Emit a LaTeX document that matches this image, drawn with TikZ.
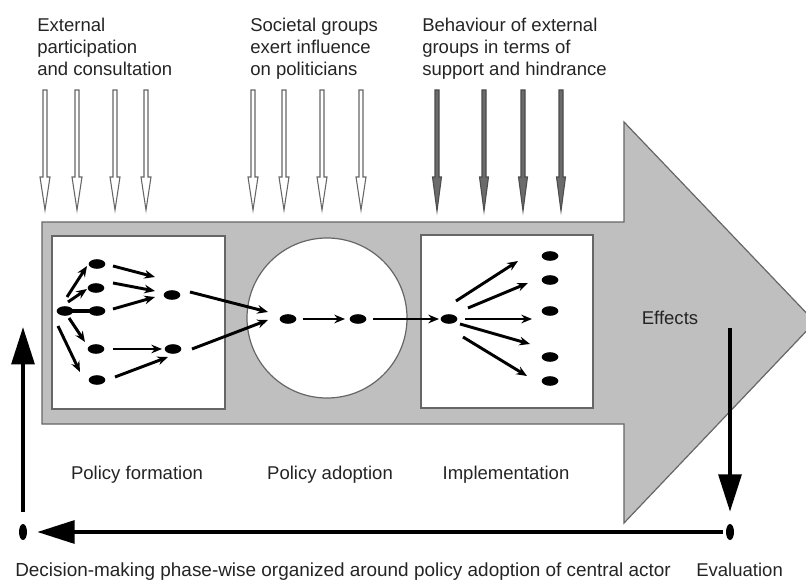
\documentclass[tikz,border=0pt]{standalone}
\usepackage{fontspec}
\setmainfont{Liberation Sans}
\usetikzlibrary{arrows.meta,shapes.geometric,calc}
\definecolor{bodygray}{gray}{0.75}
\definecolor{edgegray}{gray}{0.40}
\definecolor{darkfill}{gray}{0.42}
\definecolor{darkedge}{gray}{0.30}
\definecolor{txtgray}{gray}{0.14}
\begin{document}
\begin{tikzpicture}[x=0.75pt,y=-0.75pt,
  dot/.style={ellipse, fill=black, inner sep=0pt, minimum width=12.5pt, minimum height=7.2pt},
  vdot/.style={ellipse, fill=black, inner sep=0pt, minimum width=6pt, minimum height=12pt},
  arr/.style={line width=2.2pt, -{Stealth[length=8pt,width=6.5pt]}},
  bigarr/.style={line width=3pt, -{Triangle[length=28pt,width=17pt]}},
  lbl/.style={font=\fontsize{13.9}{16.5}\selectfont, text=txtgray, inner sep=0pt},
  panel/.style={draw=edgegray, line width=0.9pt, fill=white},
  hollow/.style={draw=edgegray, line width=0.8pt, fill=white},
  solidin/.style={draw=darkedge, line width=0.8pt, fill=darkfill}]
\useasboundingbox (0,0) rectangle (806,581);
\clip (0,0) rectangle (806,581);

% big process arrow
\draw[fill=bodygray, draw=edgegray, line width=0.9pt]
  (42,222) -- (624,222) -- (624,122) -- (815,322) -- (624,523) -- (624,424) -- (42,424) -- cycle;

% panels
\draw[panel] (52,236) rectangle (225,409);
\draw[panel] (327,318) circle (80);
\draw[panel] (421,235) rectangle (593,408);

% top labels
\node[lbl, anchor=north west, align=left] (t1) at (37,17.5) {External\\participation\\and consultation};
\node[lbl, anchor=north west, align=left] (t2) at (250,17.5) {Societal groups\\exert influence\\on politicians};
\node[lbl, anchor=north west, align=left] (t3) at (422,17.5) {Behaviour of external\\groups in terms of\\support and hindrance};

% influence arrows
\foreach \x in {45,77,115,146,253,284,322,361}{
  \draw[hollow] (\x-2,90) -- (\x+2,90) -- (\x+2,177) -- (\x+5,177) -- (\x,210) -- (\x-5,177) -- (\x-2,177) -- cycle;
}
\foreach \x in {437,484,523,561}{
  \draw[solidin] (\x-2,90) -- (\x+2,90) -- (\x+2,177) -- (\x+4.5,177) -- (\x,211) -- (\x-4.5,177) -- (\x-2,177) -- cycle;
}

% policy formation network
\node[dot] (n0) at (65,311) {};
\node[dot] (a1) at (97,264) {};
\node[dot] (a2) at (96,288) {};
\node[dot] (a3) at (97,311) {};
\node[dot] (a4) at (96,349) {};
\node[dot] (a5) at (97,380) {};
\node[dot] (b1) at (172,295) {};
\node[dot] (b2) at (173,349) {};
\node[dot] (c1) at (288,319) {};
\node[dot] (c2) at (358,319) {};
\node[dot] (d0) at (449,319) {};
\node[dot] (e1) at (550,256) {};
\node[dot] (e2) at (550,280) {};
\node[dot] (e3) at (550,311) {};
\node[dot] (e4) at (550,357) {};
\node[dot] (e5) at (550,381) {};

\draw[arr] ($(n0)+(2,-14)$) -- ($(a1)+(-10,2)$);
\draw[arr] ($(n0)+(3,-9)$) -- ($(a2)+(-9,1)$);
\draw[line width=2.6pt] ($(n0)+(6,0)$) -- ($(a3)+(-7,0)$);
\draw[arr] ($(n0)+(4,7)$) -- ($(a4)+(-11,-7)$);
\draw[arr] ($(n0)+(-7,15)$) -- ($(a5)+(-17,-8)$);
\draw[arr] ($(a1)+(16,2)$) -- ($(b1)+(-17,-18)$);
\draw[arr] ($(a2)+(17,-5)$) -- ($(b1)+(-17,-4)$);
\draw[arr] ($(a3)+(16,-2)$) -- ($(b1)+(-17,2)$);
\draw[arr] ($(a4)+(17,0)$) -- ($(b2)+(-11,0)$);
\draw[arr] ($(a5)+(18,-3)$) -- ($(b2)+(-5,8)$);
\draw[arr] ($(b1)+(18,-3)$) -- ($(c1)+(-20,-7)$);
\draw[arr] ($(b2)+(19,0)$) -- ($(c1)+(-20,1)$);
\draw[arr] ($(c1)+(15,0)$) -- ($(c2)+(-13,0)$);
\draw[arr] ($(c2)+(15,0)$) -- ($(d0)+(-10,0)$);
\draw[arr] ($(d0)+(7,-18)$) -- ($(e1)+(-32,5)$);
\draw[arr] ($(d0)+(19,-11)$) -- ($(e2)+(-22,3)$);
\draw[arr] ($(d0)+(16,0)$) -- ($(e3)+(-18,8)$);
\draw[arr] ($(d0)+(11,5)$) -- ($(e4)+(-20,-13)$);
\draw[arr] ($(d0)+(14,18)$) -- ($(e5)+(-23,-5)$);

% phase labels
\node[lbl, anchor=base] (pf) at (137,479) {Policy formation};
\node[lbl, anchor=base] (pa) at (330,479) {Policy adoption};
\node[lbl, anchor=base] (im) at (506,479) {Implementation};
\node[lbl, anchor=base] (ef) at (670,324) {Effects};

% feedback loop
\node[vdot] (L) at (23,532) {};
\node[vdot] (R) at (730,532) {};
\coordinate (Ltop) at (23,327);
\coordinate (Rtop) at (730,328);
\draw[bigarr, shorten <=9pt] (L) -- (Ltop);
\draw[bigarr, shorten >=9pt] (Rtop) -- (R);
\draw[bigarr, shorten <=2pt, shorten >=7.5pt] (R) -- (L);

\node[lbl, anchor=base west, font=\fontsize{14.2}{16.5}\selectfont] (dm) at (15,576) {Decision-making phase-wise organized around policy adoption of central actor};
\node[lbl, anchor=base west] (ev) at (696,576) {Evaluation};
\end{tikzpicture}
\end{document}
